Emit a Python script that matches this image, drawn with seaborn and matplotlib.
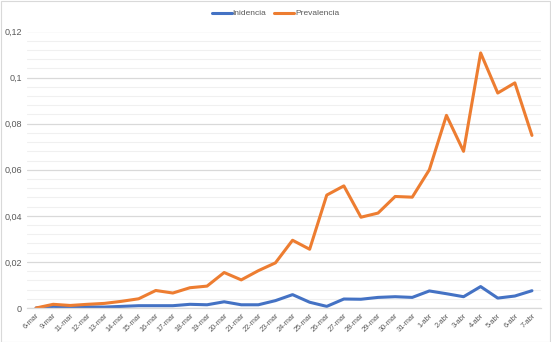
import matplotlib
matplotlib.use("Agg")
import matplotlib.pyplot as plt
import seaborn as sns
import pandas as pd
import numpy as np
from matplotlib.ticker import MultipleLocator, FuncFormatter
from matplotlib.patches import Rectangle

fechas = ["6-mar", "9-mar", "11-mar", "12-mar", "13-mar", "14-mar", "15-mar",
          "16-mar", "17-mar", "18-mar", "19-mar", "20-mar", "21-mar", "22-mar",
          "23-mar", "24-mar", "25-mar", "26-mar", "27-mar", "28-mar", "29-mar",
          "30-mar", "31-mar", "1-abr", "2-abr", "3-abr", "4-abr", "5-abr",
          "6-abr", "7-abr"]

incidencia = [0.0, 0.0007, 0.0005, 0.0005, 0.0004, 0.0007, 0.0010,
              0.0010, 0.0010, 0.0016, 0.0014, 0.0027, 0.0014, 0.0014,
              0.0032, 0.0058, 0.0025, 0.0007, 0.0039, 0.0038, 0.0046,
              0.0049, 0.0046, 0.0074, 0.0062, 0.0049, 0.0093, 0.0043,
              0.0052, 0.0075]

prevalencia = [0.0, 0.0016, 0.0011, 0.0016, 0.0020, 0.0029, 0.0040,
               0.0076, 0.0065, 0.0088, 0.0095, 0.0154, 0.0122, 0.0162,
               0.0196, 0.0294, 0.0255, 0.0490, 0.0530, 0.0394, 0.0412,
               0.0484, 0.0481, 0.0600, 0.0836, 0.0680, 0.1107, 0.0933,
               0.0977, 0.0749]

series = ["Inidencia", "Prevalencia"]
colores = ["#4472C4", "#ED7D31"]

df = pd.DataFrame({
    "fecha": fechas * 2,
    "pos": list(range(len(fechas))) * 2,
    "valor": incidencia + prevalencia,
    "serie": [series[0]] * len(fechas) + [series[1]] * len(fechas),
})

sns.set_theme(style="white")
plt.rcParams["font.family"] = ["Liberation Sans", "DejaVu Sans"]

fig = plt.figure(figsize=(5.51, 3.42), dpi=100)
ax = fig.add_axes([27.5 / 551, 1 - 308 / 342, 513 / 551, 276.5 / 342])

sns.lineplot(data=df, x="pos", y="valor", hue="serie", hue_order=series,
             palette=colores, linewidth=2.2, sort=False, ax=ax, legend=False)

ax.set_xlim(-0.5, len(fechas) - 0.5)
ax.set_ylim(0, 0.12)
ax.set_xlabel("")
ax.set_ylabel("")

ax.yaxis.set_major_locator(MultipleLocator(0.02))
ax.yaxis.set_minor_locator(MultipleLocator(0.004))
ax.yaxis.set_major_formatter(FuncFormatter(
    lambda v, p: "0" if abs(v) < 1e-9 else f"{v:.2f}".rstrip("0").replace(".", ",")))
ax.grid(which="major", axis="y", color="#D9D9D9", linewidth=0.9)
ax.grid(which="minor", axis="y", color="#F0F0F0", linewidth=0.8)
ax.set_axisbelow(True)

ax.set_xticks(range(len(fechas)))
ax.set_xticklabels(fechas, rotation=45, ha="right", rotation_mode="anchor")
ax.tick_params(axis="x", labelsize=5.3, colors="#595959", length=0, pad=3)
ax.tick_params(axis="y", which="both", labelsize=6.5, colors="#595959",
               length=0, pad=4)

for s in ["top", "right", "left"]:
    ax.spines[s].set_visible(False)
ax.spines["bottom"].set_color("#D9D9D9")
ax.spines["bottom"].set_linewidth(0.9)

handles = [plt.Line2D([], [], color=c, linewidth=2.2) for c in colores]
fig.legend(handles, series, loc="center", bbox_to_anchor=(0.5, 1 - 13.5 / 342),
           ncol=2, frameon=False, fontsize=6, handlelength=2.4,
           handletextpad=0.1, columnspacing=1.0, labelcolor="#595959")

fig.patches.append(Rectangle((0.5 / 551, 0.5 / 342), 549.5 / 551, 340.5 / 342,
                             transform=fig.transFigure, fill=False,
                             edgecolor="#D9D9D9", linewidth=0.8))

fig.savefig("out.png", dpi=100)
